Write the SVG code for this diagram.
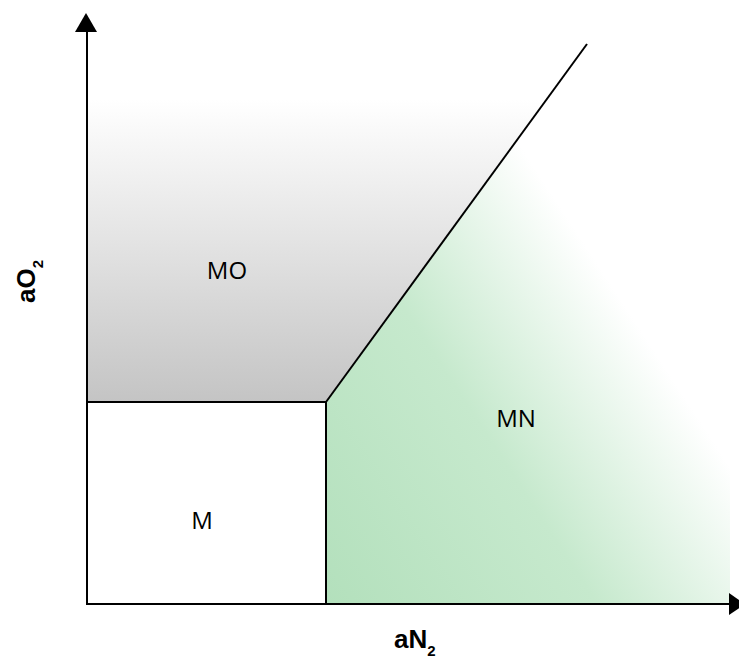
<svg xmlns="http://www.w3.org/2000/svg" width="739" height="661" viewBox="0 0 739 661">
<style>
.ln{stroke:#000;stroke-width:2;fill:none}
.lbl{font-family:"Open Sans","Liberation Sans",sans-serif;font-size:24px;fill:#000;text-anchor:middle}
.ax{font-family:"Liberation Sans",Arial,sans-serif;font-weight:bold;font-size:26px;fill:#000}
.sub{font-size:15px}
</style>
<defs>
<linearGradient id="gGray" gradientUnits="userSpaceOnUse" x1="0" y1="100" x2="0" y2="402">
<stop offset="0" stop-color="#ffffff"/>
<stop offset="1" stop-color="#c4c4c4"/>
</linearGradient>
<linearGradient id="gGreen" gradientUnits="userSpaceOnUse" x1="326" y1="604" x2="672" y2="378">
<stop offset="0" stop-color="#b3e0bc"/>
<stop offset="0.55" stop-color="#c6e9cd"/>
<stop offset="1" stop-color="#ffffff"/>
</linearGradient>
</defs>
<rect width="739" height="661" fill="#fff"/>
<g id="region-MO">
<polygon points="87,44 587,44 326,402 87,402" fill="url(#gGray)"/>
<text class="lbl" x="227" y="279">MO</text>
</g>
<g id="region-MN">
<polygon points="326,402 587,44 730,44 730,604 326,604" fill="url(#gGreen)"/>
<text class="lbl" x="516" y="427">MN</text>
</g>
<g id="region-M">
<rect x="87" y="402" width="239" height="202" fill="#fff"/>
<text class="lbl" x="202" y="529">M</text>
</g>
<g id="connectors">
<line class="ln" x1="87" y1="605" x2="87" y2="30"/>
<polygon points="86,13 75,32 97,32" fill="#000"/>
<line class="ln" x1="86" y1="604" x2="731" y2="604"/>
<polygon points="729,593 729,615 745,604" fill="#000"/>
<line class="ln" x1="87" y1="402" x2="326" y2="402"/>
<line class="ln" x1="326" y1="402" x2="326" y2="604"/>
<line class="ln" x1="326" y1="402" x2="587" y2="44"/>
</g>
<g id="axis-labels">
<text class="ax" x="394" y="648">aN<tspan class="sub" dy="8">2</tspan></text>
<text class="ax" transform="translate(35,303) rotate(-90)">aO<tspan class="sub" dy="8">2</tspan></text>
</g>
</svg>
